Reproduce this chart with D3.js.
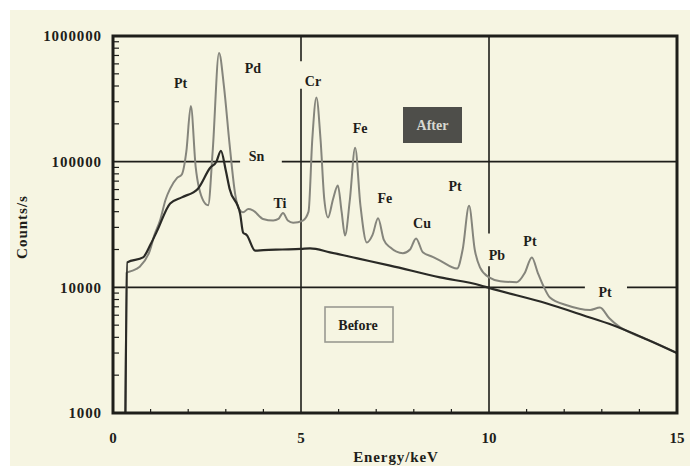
<!DOCTYPE html>
<html><head><meta charset="utf-8">
<script src="https://cdn.jsdelivr.net/npm/d3@7"></script>
<style>body{margin:0;background:#fff}svg{display:block}</style>
</head><body><svg id="c" width="690" height="466"></svg>
<script>
// ---- data ----
const afterEnergy = [0.33,0.36,0.5,0.7,0.98,1.1,1.25,1.4,1.52,1.7,1.83,1.95,2.07,2.2,2.4,2.53,2.65,2.82,2.95,3.1,3.25,3.35,3.46,3.6,3.72,3.99,4.26,4.4,4.52,4.65,4.79,5.05,5.2,5.3,5.41,5.52,5.62,5.72,5.85,5.98,6.08,6.17,6.3,6.44,6.58,6.75,6.9,7.05,7.2,7.37,7.71,7.9,8.06,8.24,8.5,8.7,9.15,9.3,9.47,9.62,9.76,10.0,10.3,10.74,10.95,11.14,11.3,11.45,11.62,12.07,12.69,12.95,13.2,13.48,13.8,14.2,15];
const afterCounts = [1000,13000,13500,14500,19600,26000,34000,50000,61000,74000,79000,120000,277000,90000,49000,45000,120000,733000,400000,138000,55000,42000,39600,42000,41000,35000,34000,35000,39000,34000,32700,34000,40000,150000,324000,150000,50000,36000,50000,64600,40000,25800,50000,129000,45000,22700,26000,35400,24000,20800,18700,20000,24500,19000,17500,16300,14100,20000,44500,20000,14400,12000,11200,11000,13000,17300,13000,10200,8300,7200,6600,6900,5670,4820,4300,3850,3000];
const beforeEnergy = [0.33,0.38,0.8,1.0,1.17,1.52,1.83,2.26,2.58,2.75,2.87,3.0,3.1,3.38,3.46,3.56,3.78,4.0,4.5,5.0,5.24,5.77,6.5,7.37,8.7,9.76,10.0,11.54,12.5,13.3,14.2,15];
const beforeCounts = [1000,15800,17300,22000,28000,46500,52000,61000,89000,100000,122000,85000,61000,38700,27300,26000,19600,19800,20000,20200,20400,19000,17000,14900,12000,10400,9900,7430,6000,4990,3850,3000];
const xTickValues = [0,5,10,15];
const yTickValues = [1000,10000,100000,1000000];
const yTickLabels = ["1000","10000","100000","1000000"];
const peakLabels = ["Pt","Pd","Cr","Sn","Ti","Fe","Fe","Cu","Pt","Pb","Pt","Pt"];
const peakEnergy = [1.8,3.72,5.32,3.82,4.44,6.57,7.23,8.22,9.1,10.21,11.09,13.09];
const peakCounts = [385000,508000,400000,102000,43000,170000,47300,29400,58900,16400,21500,8330];

// ---- layout ----
const svg = d3.select("#c");
const W = 690, H = 466;
const x = d3.scaleLinear().domain([0,15]).range([113,677]);
const y = d3.scaleLog().domain([1000,1000000]).range([413,36]);
const serif = "'Liberation Serif','DejaVu Serif',serif";
const ink = "#1e1e1a";

svg.append("rect").attr("x",10).attr("y",10).attr("width",W-10).attr("height",H-10).attr("fill","#f6f5e2");

// gridlines with gaps
const g = svg.append("g").attr("stroke",ink).attr("stroke-width",1.6).attr("fill","none");
function hseg(v,a,b){g.append("line").attr("x1",x(a)).attr("x2",x(b)).attr("y1",y(v)).attr("y2",y(v));}
function vseg(e,a,b){g.append("line").attr("x1",x(e)).attr("x2",x(e)).attr("y1",y(a)).attr("y2",y(b));}
hseg(100000,0,3.38); hseg(100000,4.49,15);
hseg(10000,0,12.55); hseg(10000,13.67,15);
vseg(5,1000000,630000); vseg(5,380000,1000);
vseg(10,1000000,26800); vseg(10,14700,1000);

// minor ticks
const tk = svg.append("g").attr("stroke",ink).attr("stroke-width",1.2);
[1000,10000,100000].forEach(d=>{
  for(let k=2;k<=9;k++){
    const v=d*k;
    tk.append("line").attr("x1",x(0)).attr("x2",x(0)+6).attr("y1",y(v)).attr("y2",y(v));
  }
});
for(let e=1;e<15;e++){
  if(e%5===0) continue;
  tk.append("line").attr("x1",x(e)).attr("x2",x(e)).attr("y1",y(1000)).attr("y2",y(1000)-4);
}

// curves
const line = d3.line().x(d=>x(d[0])).y(d=>y(d[1])).curve(d3.curveMonotoneX);
const afterData = afterEnergy.map((e,i)=>[e,afterCounts[i]]);
const beforeData = beforeEnergy.map((e,i)=>[e,beforeCounts[i]]);
svg.append("path").attr("d",line(afterData)).attr("fill","none").attr("stroke","#85857c").attr("stroke-width",2);
svg.append("path").attr("d",line(beforeData)).attr("fill","none").attr("stroke","#2a2a26").attr("stroke-width",2.2);

// frame
svg.append("rect").attr("x",x(0)).attr("y",y(1000000)).attr("width",x(15)-x(0)).attr("height",y(1000)-y(1000000))
  .attr("fill","none").attr("stroke",ink).attr("stroke-width",3);

// axis tick labels
const yl = svg.append("g").attr("font-family",serif).attr("font-weight","bold").attr("font-size",15).attr("fill",ink);
yTickValues.forEach((v,i)=>{
  yl.append("text").attr("x",102).attr("y",y(v)).attr("dy","0.35em").attr("text-anchor","end")
    .attr("letter-spacing",0.9).text(yTickLabels[i]);
});
xTickValues.forEach(v=>{
  yl.append("text").attr("x",x(v)).attr("y",443).attr("text-anchor","middle").text(v);
});
yl.append("text").attr("x",396).attr("y",462).attr("text-anchor","middle").attr("letter-spacing",0.9).text("Energy/keV");
yl.append("text").attr("transform","translate(27,227) rotate(-90)").attr("text-anchor","middle").attr("letter-spacing",1).text("Counts/s");

// peak labels
const pl = svg.append("g").attr("font-family",serif).attr("font-weight","bold").attr("font-size",14).attr("fill",ink);
peakLabels.forEach((t,i)=>{
  pl.append("text").attr("x",x(peakEnergy[i])).attr("y",y(peakCounts[i])).attr("text-anchor","middle").text(t);
});

// legend boxes
const afterBox = svg.append("g");
afterBox.append("rect").attr("x",403).attr("y",107).attr("width",59).attr("height",36).attr("fill","#4e4e4a");
afterBox.append("text").attr("x",432.5).attr("y",125).attr("dy","0.35em").attr("text-anchor","middle")
  .attr("font-family",serif).attr("font-weight","bold").attr("font-size",14).attr("fill","#d8d8d0").text("After");
const beforeBox = svg.append("g");
beforeBox.append("rect").attr("x",325).attr("y",307).attr("width",68).attr("height",35).attr("fill","none")
  .attr("stroke","#9a9a92").attr("stroke-width",1.6);
beforeBox.append("text").attr("x",358).attr("y",325).attr("dy","0.35em").attr("text-anchor","middle")
  .attr("font-family",serif).attr("font-weight","bold").attr("font-size",14).attr("fill",ink).text("Before");
</script></body></html>
